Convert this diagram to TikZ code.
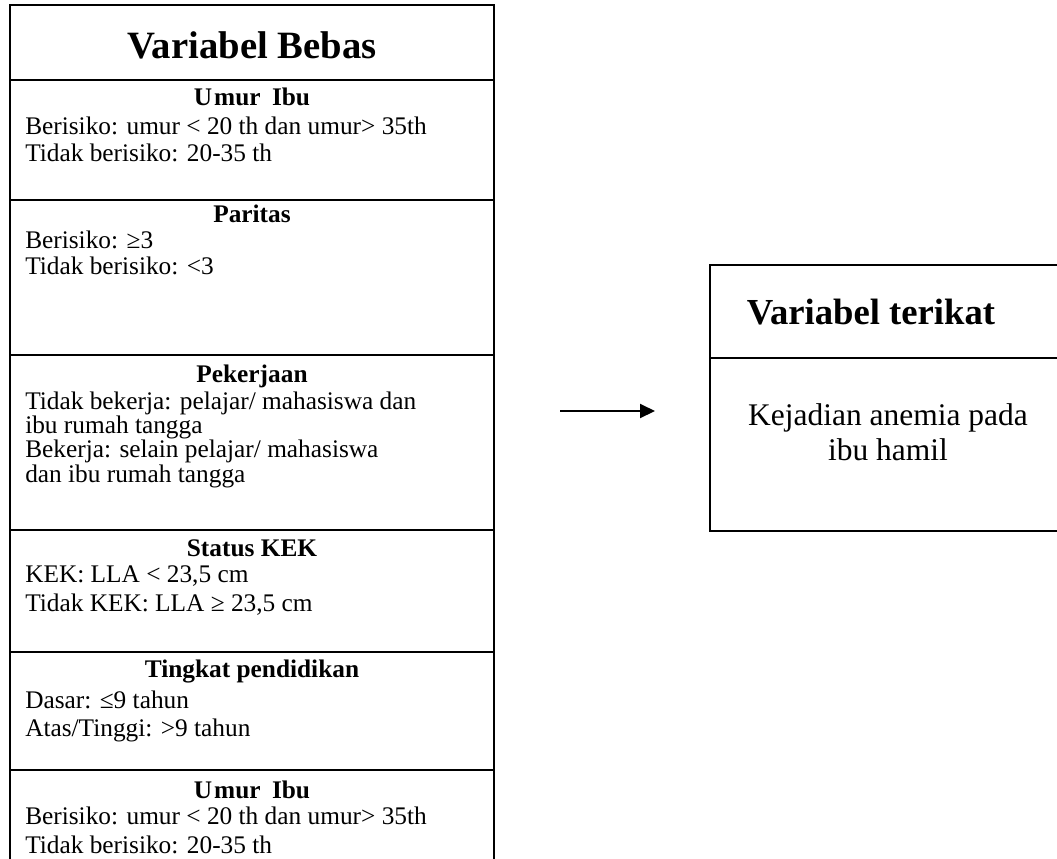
\documentclass[tikz,border=0pt]{standalone}
\usepackage{fontspec}
\setmainfont{Liberation Serif}
\usetikzlibrary{arrows.meta}
\begin{document}
\begin{tikzpicture}[x=0.75pt,y=-0.75pt,
  frame/.style={line width=1.5pt},
  bodytxt/.style={anchor=base west, inner sep=0pt, font=\fontsize{19}{21}\selectfont},
  headtxt/.style={anchor=base, inner sep=0pt, font=\fontsize{19}{21}\selectfont\bfseries},
  bigtitle/.style={anchor=base, inner sep=0pt, font=\fontsize{29}{32}\selectfont\bfseries},
  righttitle/.style={anchor=base, inner sep=0pt, font=\fontsize{27.5}{30}\selectfont\bfseries},
  rightbody/.style={anchor=base, inner sep=0pt, font=\fontsize{23.6}{26}\selectfont},
  connector/.style={line width=1.5pt, -{Triangle[length=11.25pt,width=10.5pt]}}
]
\useasboundingbox (0,0) rectangle (1057,858);
\clip (0,0) rectangle (1057,858);

% left box (Variabel Bebas)
\draw[frame] (10,880) -- (10,5) -- (494,5) -- (494,880);
\foreach \yy in {80,200,355,530,652,770} \draw[frame] (10,\yy) -- (494,\yy);

\node[bigtitle] (tBebas) at (252,58) {Variabel Bebas};

\node[headtxt] (h1) at (252,105) {U\kern1.5pt mur\hspace{0.45em}Ibu};
\node[bodytxt] (b1a) at (25,134) {Berisiko: umur < 20 th dan umur> 35th};
\node[bodytxt] (b1b) at (25,161) {Tidak berisiko: 20-35 th};

\node[headtxt] (h2) at (252,222) {Paritas};
\node[bodytxt] (b2a) at (25,248) {Berisiko: ≥3};
\node[bodytxt] (b2b) at (25,274) {Tidak berisiko: <3};

\node[headtxt] (h3) at (252,382) {Pekerjaan};
\node[bodytxt] (b3a) at (25,409) {Tidak bekerja: pelajar/ mahasiswa dan};
\node[bodytxt] (b3b) at (25,433) {ibu rumah tangga};
\node[bodytxt] (b3c) at (25,457) {Bekerja: selain pelajar/ mahasiswa};
\node[bodytxt] (b3d) at (25,482) {dan ibu rumah tangga};

\node[headtxt] (h4) at (252,556) {Status KEK};
\node[bodytxt] (b4a) at (25,582) {KEK: LLA < 23,5 cm};
\node[bodytxt] (b4b) at (25,611) {Tidak KEK: LLA ≥ 23,5 cm};

\node[headtxt] (h5) at (252,677) {Tingkat pendidikan};
\node[bodytxt] (b5a) at (25,708) {Dasar: ≤9 tahun};
\node[bodytxt] (b5b) at (25,736) {Atas/Tinggi: >9 tahun};

\node[headtxt] (h6) at (252,798) {U\kern1.5pt mur\hspace{0.45em}Ibu};
\node[bodytxt] (b6a) at (25,824) {Berisiko: umur < 20 th dan umur> 35th};
\node[bodytxt] (b6b) at (25,853) {Tidak berisiko: 20-35 th};

% right box (Variabel terikat)
\draw[frame] (1070,265) -- (710,265) -- (710,531) -- (1070,531);
\draw[frame] (710,358) -- (1070,358);
\node[righttitle] (tTerikat) at (871,324) {Variabel terikat};
\node[rightbody] (r1) at (888,425) {Kejadian anemia pada};
\node[rightbody] (r2) at (888,460) {ibu hamil};

% arrow
\coordinate (arrS) at (560,411);
\coordinate (arrE) at (655,411);
\draw[connector] (arrS) -- (arrE);
\end{tikzpicture}
\end{document}
